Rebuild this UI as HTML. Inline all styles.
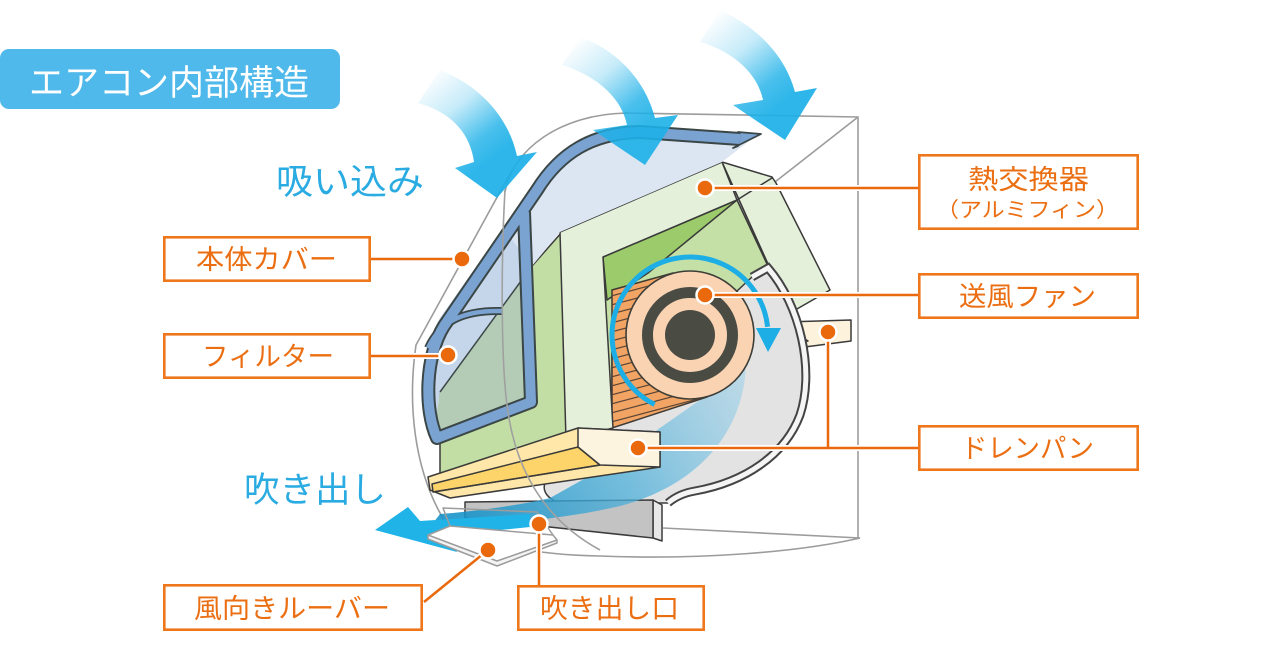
<!DOCTYPE html>
<html><head><meta charset="utf-8">
<style>
html,body{margin:0;padding:0;background:#fff;}
svg{display:block;}
text{font-family:"Liberation Sans","Noto Sans CJK JP",sans-serif;}
</style></head><body>
<svg width="1272" height="652" viewBox="0 0 1272 652" xmlns="http://www.w3.org/2000/svg">
<defs>
 <linearGradient id="ga1" gradientUnits="userSpaceOnUse" x1="425" y1="78" x2="490" y2="160">
  <stop offset="0" stop-color="#1cb0e8" stop-opacity="0"/>
  <stop offset="0.4" stop-color="#1cb0e8" stop-opacity="0.25"/>
  <stop offset="0.78" stop-color="#1cb0e8" stop-opacity="0.8"/>
  <stop offset="1" stop-color="#1cb0e8" stop-opacity="0.92"/>
 </linearGradient>
 <linearGradient id="ga2" gradientUnits="userSpaceOnUse" x1="570" y1="45" x2="640" y2="130">
  <stop offset="0" stop-color="#1cb0e8" stop-opacity="0"/>
  <stop offset="0.4" stop-color="#1cb0e8" stop-opacity="0.25"/>
  <stop offset="0.78" stop-color="#1cb0e8" stop-opacity="0.8"/>
  <stop offset="1" stop-color="#1cb0e8" stop-opacity="0.9"/>
 </linearGradient>
 <linearGradient id="ga3" gradientUnits="userSpaceOnUse" x1="710" y1="18" x2="780" y2="105">
  <stop offset="0" stop-color="#1cb0e8" stop-opacity="0"/>
  <stop offset="0.4" stop-color="#1cb0e8" stop-opacity="0.25"/>
  <stop offset="0.78" stop-color="#1cb0e8" stop-opacity="0.8"/>
  <stop offset="1" stop-color="#1cb0e8" stop-opacity="0.92"/>
 </linearGradient>
 <linearGradient id="gsw" gradientUnits="userSpaceOnUse" x1="745" y1="370" x2="470" y2="525">
  <stop offset="0" stop-color="#9fd2ea" stop-opacity="0.55"/>
  <stop offset="0.5" stop-color="#4fb0da" stop-opacity="0.75"/>
  <stop offset="1" stop-color="#1592c8" stop-opacity="0.88"/>
 </linearGradient>
 <clipPath id="bodyclip"><polygon points="673,273 612,290 612,428 707,397"/></clipPath>
</defs>

<!-- Title -->
<rect x="0" y="49" width="340" height="60" rx="9" fill="#50b9eb"/>
<text x="29" y="95" font-size="35" fill="#ffffff" textLength="280" lengthAdjust="spacingAndGlyphs">エアコン内部構造</text>

<!-- blue labels -->
<text x="276" y="194" font-size="35" fill="#2aabe2" textLength="148" lengthAdjust="spacingAndGlyphs">吸い込み</text>
<text x="244" y="502" font-size="35" fill="#2aabe2" textLength="142" lengthAdjust="spacingAndGlyphs">吹き出し</text>

<!-- Housing outline (back) -->
<g fill="none" stroke="#9c9c9c" stroke-width="1.6">
 <path d="M505,192 C512,150 560,114 627,113 L858,117 L858,538"/>
 <path d="M858,117 L775,182"/>
 <path d="M512,170 L416,345 C408,400 412,470 447,525 C480,545 540,555 600,556 C700,560 800,552 860,538"/>
 <path d="M663,528 L860,538"/>
</g>

<!-- Heat exchanger back pieces -->
<g stroke="#3a3a3a" stroke-width="1.5" stroke-linejoin="round">
 <polygon points="440,320 532,266 562,232 567,440 440,480" fill="#c3dea5"/>
 <polygon points="722,162 772,177 776,183 830,290 790,313" fill="#e5f0da"/>
 <polygon points="603,257 737,200 790,313 770,330 700,395 607,430" fill="#c5e0a6"/>
 <polygon points="603,257 737,200 648,273 607,300" fill="#9ccb6b"/>
 <line x1="722" y1="162" x2="790" y2="313"/>
 <line x1="737" y1="200" x2="772" y2="178"/>
</g>

<!-- Right small drain pan -->
<g stroke="#3a3a3a" stroke-width="1.5" stroke-linejoin="round">
 <polygon points="786,322 851,320 851,341 797,348 786,334" fill="#fdf3dc"/>
 <polygon points="788,328 808,341 794,344" fill="#fcd570"/>
</g>

<!-- Scroll casing -->
<path d="M752,277 L768,268 C800,305 815,370 800,415 C785,455 745,482 695,491 C683,493 675,497 668,503 L560,503 C545,498 540,488 548,478 L612,440 L612,330 L690,335 Z" fill="#e3e3e3" stroke="#3c3c3c" stroke-width="1.5"/>
<path d="M752,277 L768,268 C800,305 815,370 800,415 C785,455 745,482 695,491 C683,493 675,497 668,503" fill="none" stroke="#444" stroke-width="9"/>
<path d="M752,277 L768,268 C800,305 815,370 800,415 C785,455 745,482 695,491 C683,493 675,497 668,503" fill="none" stroke="#f5f5f5" stroke-width="5"/>

<!-- Stabilizer block -->
<g stroke="#3b3b3b" stroke-width="1.5" stroke-linejoin="round">
 <polygon points="653,500 662,505 662,541 653,538" fill="#e8e8e8"/>
 <polygon points="465,502 653,500 653,538 465,518" fill="#c3c3c3"/>
</g>

<!-- Blue swoosh -->
<path d="M746,362 C745,430 700,485 620,506 C560,520 500,524 430,527 L440,514 C480,511 520,505 550,498 L600,470 L700,400 Z" fill="url(#gsw)"/>

<!-- Fan body -->
<polygon points="673,273 612,290 612,428 707,397" fill="#f2a464" stroke="#3e3a34" stroke-width="1.5"/>
<g clip-path="url(#bodyclip)" stroke="#5b4636" stroke-width="1.2">
 <line x1="600" y1="290" x2="720" y2="258"/>
 <line x1="600" y1="299" x2="720" y2="267"/>
 <line x1="600" y1="308" x2="720" y2="276"/>
 <line x1="600" y1="317" x2="720" y2="285"/>
 <line x1="600" y1="326" x2="720" y2="294"/>
 <line x1="600" y1="335" x2="720" y2="303"/>
 <line x1="600" y1="344" x2="720" y2="312"/>
 <line x1="600" y1="353" x2="720" y2="321"/>
 <line x1="600" y1="362" x2="720" y2="330"/>
 <line x1="600" y1="371" x2="720" y2="339"/>
 <line x1="600" y1="380" x2="720" y2="348"/>
 <line x1="600" y1="389" x2="720" y2="357"/>
 <line x1="600" y1="398" x2="720" y2="366"/>
 <line x1="600" y1="407" x2="720" y2="375"/>
 <line x1="600" y1="416" x2="720" y2="384"/>
 <line x1="600" y1="425" x2="720" y2="393"/>
 <line x1="600" y1="434" x2="720" y2="402"/>
 <line x1="600" y1="443" x2="720" y2="411"/>
</g>
<!-- Fan end disk -->
<circle cx="690" cy="335" r="64" fill="#fad3b3" stroke="#3e3e38" stroke-width="1.6"/>
<circle cx="690" cy="335" r="42.5" fill="none" stroke="#4a4c44" stroke-width="11"/>
<circle cx="690" cy="335" r="25" fill="#4a4c44"/>

<!-- Rotation arrow -->
<path d="M654.6,404.5 A78,78 0 1 1 767.6,326.8" fill="none" stroke="#1eaee6" stroke-width="5"/>
<polygon points="756,328 781,328 768,352" fill="#1eaee6"/>

<!-- HX front slab (light) -->
<polygon points="560,232 722,162 737,200 603,257 613,428 566,440" fill="#e5f0da" stroke="#3a3a3a" stroke-width="1.5" stroke-linejoin="round"/>

<!-- Filter -->
<path d="M757,135 L640,127 C590,128 555,150 530,190 L505,230 L532,266 L560,232 L722,162 Z" fill="#dce6f2"/>
<path d="M530,190 L440,318 C420,350 420,410 432,443 L440,392 L532,266 L505,230 Z" fill="#c5d6ea"/>
<polygon points="440,392 532,266 536,405 432,443" fill="#b4ccb6"/>
<line x1="440" y1="392" x2="532" y2="266" stroke="#3b4646" stroke-width="1.5"/>
<polygon points="738,132 761,134 733,148 738,146" fill="#7aa3d2" stroke="#3b4646" stroke-width="1.8" stroke-linejoin="round"/>
<g fill="none" stroke-linejoin="round">
 <path d="M740,139 L640,132 C592,133 560,153 537,190 L444,326 C425,356 424,410 437,438 L531,402 L524,212" stroke="#3b4646" stroke-width="14"/>
 <path d="M428,348 C440,322 462,310 502,311" stroke="#3b4646" stroke-width="8"/>
 <path d="M740,139 L640,132 C592,133 560,153 537,190 L444,326 C425,356 424,410 437,438 L531,402 L524,212" stroke="#7aa3d2" stroke-width="10"/>
 <path d="M428,348 C440,322 462,310 502,311" stroke="#7aa3d2" stroke-width="4.5"/>
</g>

<!-- Front drain pan -->
<g stroke="#3a3a3a" stroke-width="1.5" stroke-linejoin="round">
 <polygon points="428,477 578,428 660,432 660,467 647,469 450,498 430,490" fill="#fee7a8"/>
 <polygon points="432,484 578,447 600,465 433,492" fill="#fcd46a"/>
 <polygon points="578,428 660,432 660,467 600,465 578,447" fill="#fdf4df"/>
 <line x1="433" y1="492" x2="600" y2="465"/>
</g>

<!-- Outlet arrow -->
<polygon points="375,530 408,507 420,521 530,514 530,527 450,535 457,552" fill="#1fb3e8"/>

<!-- Louver -->
<g stroke="#9c9c9c" stroke-width="1.5" stroke-linejoin="round">
 <path d="M450,526 L443,508 L537,512 L553,535" fill="none"/>
 <path d="M428,535 L428,539 L497,566 L557,543 L557,540" fill="#f4f4f4"/>
 <path d="M428,535 L450,526 L553,535 L557,540 L497,561 Z" fill="#ffffff"/>
</g>

<!-- Front panel translucent curve -->
<path d="M505,190 C501,260 501,360 507,405 C515,470 545,520 600,550" fill="none" stroke="#a0a0a0" stroke-width="1.6"/>

<!-- Intake arrows -->
<path d="M440,70 C478,85 508,115 517,156 L537,152 L497,198 L455,168 L474,162 C470,132 450,112 418,103 Z" fill="url(#ga1)"/>
<path d="M580,37 C617,50 645,80 655,118 L678,115 L645,165 L593,130 L627,125 C622,100 600,77 562,65 Z" fill="url(#ga2)"/>
<path d="M720,10 C757,27 785,55 795,92 L817,88 L785,140 L733,105 L763,100 C758,75 735,52 700,42 Z" fill="url(#ga3)"/>

<!-- Connectors -->
<g fill="none" stroke="#ffffff" stroke-width="6">
 <path d="M371,259 L462,259"/>
 <path d="M371,356 L448,356"/>
 <path d="M705,188 L918,188"/>
 <path d="M705,295 L918,295"/>
 <path d="M638,448 L918,448 M828,332 L828,448"/>
 <path d="M424,602 L488,550"/>
 <path d="M539,524 L539,585"/>
</g>
<g fill="none" stroke="#e9690c" stroke-width="2.5">
 <path d="M371,259 L462,259"/>
 <path d="M371,356 L448,356"/>
 <path d="M705,188 L918,188"/>
 <path d="M705,295 L918,295"/>
 <path d="M638,448 L918,448 M828,332 L828,448"/>
 <path d="M424,602 L488,550"/>
 <path d="M539,524 L539,585"/>
</g>
<g fill="#e9690c" stroke="#ffffff" stroke-width="2.5">
 <circle cx="462" cy="259" r="8.5"/>
 <circle cx="448" cy="355" r="8.5"/>
 <circle cx="705" cy="188" r="8.5"/>
 <circle cx="705" cy="295" r="8.5"/>
 <circle cx="828" cy="332" r="8.5"/>
 <circle cx="638" cy="448" r="8.5"/>
 <circle cx="488" cy="550" r="8.5"/>
 <circle cx="539" cy="524" r="8.5"/>
</g>

<!-- Label boxes -->
<g fill="#ffffff" stroke="#ee761b" stroke-width="2.6">
 <rect x="164.3" y="237.3" width="205.4" height="43.4"/>
 <rect x="164.3" y="334.3" width="205.4" height="43.4"/>
 <rect x="919.3" y="155.3" width="218.4" height="73.4"/>
 <rect x="919.3" y="274.3" width="218.4" height="43.4"/>
 <rect x="919.3" y="426.3" width="218.4" height="43.4"/>
 <rect x="164.3" y="585.3" width="257.4" height="44.4"/>
 <rect x="518.3" y="586.3" width="185.4" height="43.4"/>
</g>
<g fill="#eb6f12" font-size="27">
 <text x="196" y="269" textLength="141" lengthAdjust="spacingAndGlyphs">本体カバー</text>
 <text x="202" y="366" textLength="132" lengthAdjust="spacingAndGlyphs">フィルター</text>
 <text x="968" y="189" textLength="121" lengthAdjust="spacingAndGlyphs">熱交換器</text>
 <text x="936" y="217" font-size="21" textLength="183" lengthAdjust="spacingAndGlyphs">（アルミフィン）</text>
 <text x="959" y="306" textLength="137" lengthAdjust="spacingAndGlyphs">送風ファン</text>
 <text x="961" y="458" textLength="133" lengthAdjust="spacingAndGlyphs">ドレンパン</text>
 <text x="194" y="618" textLength="196" lengthAdjust="spacingAndGlyphs">風向きルーバー</text>
 <text x="540" y="618" textLength="139" lengthAdjust="spacingAndGlyphs">吹き出し口</text>
</g>
</svg>
</body></html>
